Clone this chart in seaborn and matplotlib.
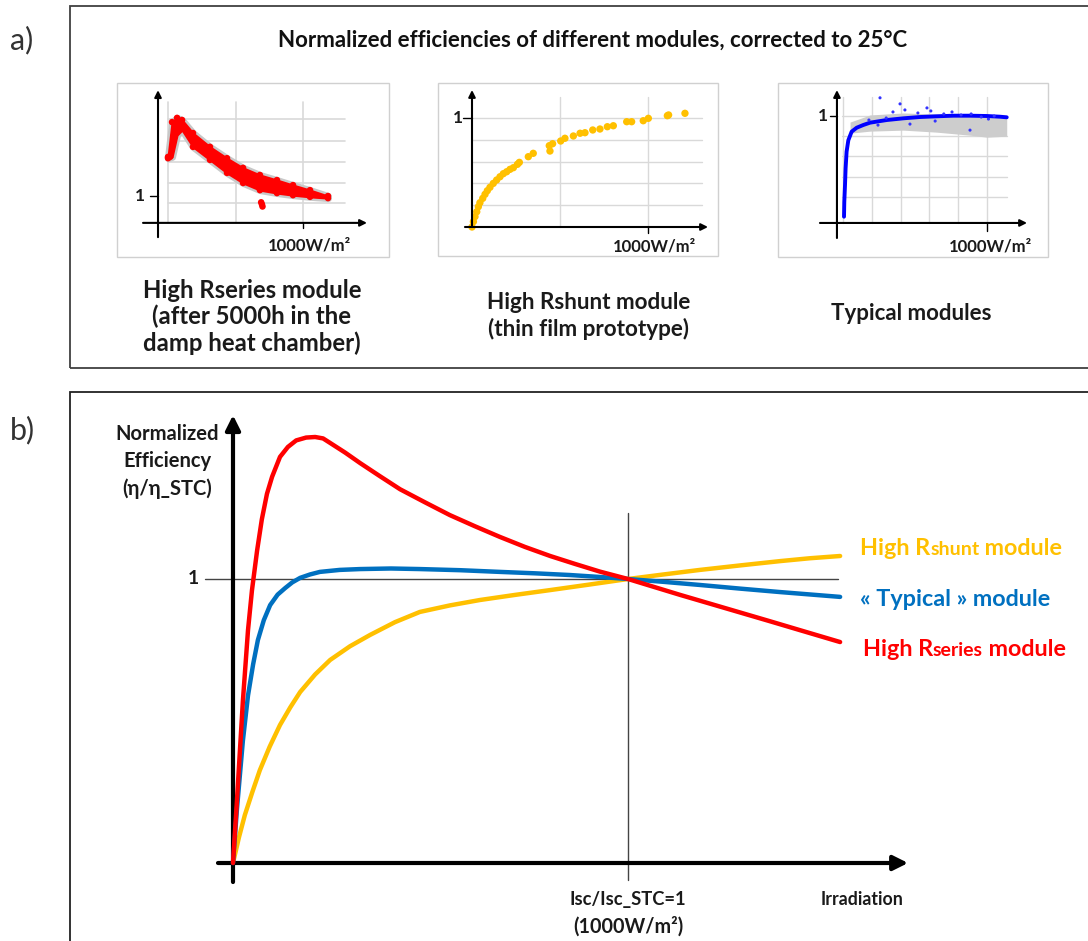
import matplotlib
matplotlib.use("Agg")
import numpy as np
import pandas as pd
import seaborn as sns
import matplotlib.pyplot as plt
from matplotlib.patches import Rectangle
from matplotlib.transforms import offset_copy

# ---------------- data ----------------
# panel a-1 : high Rseries module (W/m2, normalized efficiency)
rs_w_upper = [0, 30, 67, 104, 185, 311, 437, 556, 681, 807, 926, 1052, 1185]
rs_e_upper = [1.093, 1.176, 1.186, 1.181, 1.150, 1.117, 1.090, 1.067, 1.050, 1.038, 1.026, 1.014, 1.000]
rs_w_lower = [0, 15, 44, 67, 185, 311, 437, 556, 681, 807, 926, 1052, 1185]
rs_e_lower = [1.090, 1.093, 1.145, 1.157, 1.117, 1.086, 1.055, 1.031, 1.014, 1.007, 1.002, 0.998, 0.995]
rs_w_dip = [690, 696, 700]
rs_e_dip = [0.985, 0.980, 0.975]

# panel a-2 : high Rshunt module
sh_w = [0, 8, 17, 27, 36, 45, 61, 74, 87, 102, 121, 140, 159, 178, 197, 216, 235, 258, 269,
        320, 348, 439, 443, 458, 504, 528, 576, 614, 642, 686, 727, 769, 803, 879, 907, 973,
        1002, 1110, 1117, 1210]
sh_e = [0.0, 0.049, 0.095, 0.14, 0.186, 0.223, 0.263, 0.30, 0.333, 0.364, 0.40, 0.431, 0.461,
        0.489, 0.507, 0.529, 0.544, 0.575, 0.593, 0.645, 0.676, 0.746, 0.697, 0.764, 0.789,
        0.814, 0.835, 0.86, 0.865, 0.89, 0.899, 0.92, 0.929, 0.966, 0.966, 0.975, 0.997,
        1.021, 1.028, 1.043]

# panel a-3 : typical modules
ty_w = [7, 9, 14, 18, 25, 37, 60, 95, 141, 188, 303, 419, 535, 650, 766, 882, 998, 1090, 1137]
ty_e = [0.003, 0.15, 0.32, 0.48, 0.647, 0.76, 0.845, 0.884, 0.911, 0.934, 0.96, 0.977, 0.99,
        0.997, 1.003, 1.003, 1.0, 0.993, 0.987]
ty_out_w = [257, 396, 430, 583, 465, 882, 757, 347, 243, 520, 640, 700, 820, 960, 1050, 300, 180,
            610, 890, 1010]
ty_out_e = [1.18, 1.12, 1.06, 1.08, 0.92, 0.86, 1.04, 1.04, 0.91, 1.03, 0.95, 1.02, 1.01, 0.99,
            1.0, 0.98, 0.96, 1.05, 1.02, 0.97]
gray_w = [49, 188, 419, 650, 882, 1000, 1137]
gray_hi = [0.94, 1.01, 1.03, 1.02, 1.01, 1.00, 0.98]
gray_lo = [0.83, 0.85, 0.86, 0.84, 0.81, 0.79, 0.80]

# panel b : schematic curves (Isc/Isc_STC, eta/eta_STC)
red_x = [0, 0.010, 0.025, 0.038, 0.048, 0.061, 0.073, 0.086, 0.099, 0.119, 0.139, 0.160,
         0.185, 0.208, 0.228, 0.246, 0.284, 0.322, 0.372, 0.423, 0.486, 0.549, 0.612,
         0.676, 0.739, 0.803, 0.866, 0.929, 1.0, 1.066, 1.132, 1.208, 1.284, 1.36, 1.435, 1.537]
red_y = [0, 0.22, 0.57, 0.82, 0.96, 1.10, 1.21, 1.30, 1.36, 1.43, 1.465, 1.488, 1.498, 1.500,
         1.495, 1.479, 1.445, 1.408, 1.362, 1.316, 1.270, 1.225, 1.186, 1.148, 1.113, 1.081,
         1.053, 1.026, 1.0, 0.972, 0.944, 0.913, 0.882, 0.851, 0.820, 0.778]
blue_x = [0, 0.010, 0.025, 0.038, 0.051, 0.063, 0.078, 0.094, 0.113, 0.132, 0.150, 0.170,
          0.195, 0.220, 0.270, 0.322, 0.400, 0.473, 0.575, 0.676, 0.765, 0.853, 0.93, 1.0,
          1.09, 1.182, 1.285, 1.385, 1.537]
blue_y = [0, 0.19, 0.43, 0.59, 0.70, 0.785, 0.855, 0.908, 0.945, 0.968, 0.988, 1.004, 1.016,
          1.025, 1.032, 1.035, 1.037, 1.035, 1.031, 1.025, 1.020, 1.014, 1.007, 1.0, 0.99,
          0.979, 0.966, 0.954, 0.937]
orange_x = [0, 0.015, 0.030, 0.049, 0.068, 0.093, 0.119, 0.145, 0.170, 0.208, 0.246, 0.296,
            0.347, 0.410, 0.473, 0.549, 0.625, 0.714, 0.803, 0.90, 1.0, 1.09, 1.182, 1.285,
            1.385, 1.46, 1.537]
orange_y = [0, 0.09, 0.169, 0.25, 0.327, 0.41, 0.486, 0.548, 0.602, 0.664, 0.715, 0.763,
            0.803, 0.848, 0.884, 0.907, 0.926, 0.944, 0.961, 0.98, 1.0, 1.016, 1.032, 1.048,
            1.063, 1.073, 1.081]

# ---------------- styling ----------------
sns.set_theme(style="white")
plt.rcParams["font.family"] = ["Lato", "DejaVu Sans"]

RED = "#ff0000"
BLUE = "#0070c0"
ORANGE = "#ffc000"
GRID = "#d9d9d9"

W, H = 1088, 941
fig = plt.figure(figsize=(W / 100, H / 100), dpi=100)


def px_axes(l, t, r, b, xmap, ymap):
    ax = fig.add_axes([l / W, 1 - b / H, (r - l) / W, (b - t) / H])
    (p0, v0), (p1, v1) = xmap
    (q0, w0), (q1, w1) = ymap
    fx = lambda p: v0 + (p - p0) * (v1 - v0) / (p1 - p0)
    fy = lambda q: w0 + (q - q0) * (w1 - w0) / (q1 - q0)
    ax.set_xlim(fx(l), fx(r))
    ax.set_ylim(fy(b), fy(t))
    ax.axis("off")
    ax.patch.set_alpha(0)
    return ax


def arrow(ax, x0, y0, x1, y1, lw, ms, color="black"):
    ax.annotate("", xy=(x1, y1), xytext=(x0, y0),
                arrowprops=dict(arrowstyle="-|>", lw=lw, color=color,
                                mutation_scale=ms, shrinkA=0, shrinkB=0),
                annotation_clip=False)


def fig_text(x, y, s, **kw):
    fig.text(x / W, 1 - y / H, s, **kw)


# panel frames
fig.add_artist(Rectangle((70 / W, 1 - 368 / H), 1.2, (368 - 6) / H, transform=fig.transFigure,
                         fill=False, ec="#404040", lw=1.3))
fig.add_artist(Rectangle((70 / W, -0.2), 1.2, 0.2 + 1 - 392 / H, transform=fig.transFigure,
                         fill=False, ec="#222222", lw=1.3))
fig_text(22, 40, "a)", fontsize=22, color="#333333", ha="center", va="center")
fig_text(22, 430, "b)", fontsize=22, color="#333333", ha="center", va="center")
fig_text(593, 40, "Normalized efficiencies of different modules, corrected to 25°C",
         fontsize=16, fontweight="bold", ha="center", va="center", color="#111111")


def frame(ax):
    ax.add_patch(Rectangle((0, 0), 1, 1, transform=ax.transAxes, fill=False,
                           ec="#d0d0d0", lw=1.0, clip_on=False))


TXT = dict(fontweight="bold", color="#1a1a1a")

# ---------- panel a-1 ----------
ax1 = px_axes(117, 83, 389, 257, ((168, 0), (303, 1000)), ((196, 1.0), (154, 1.1)))
frame(ax1)
for gx in [0, 500, 1000]:
    ax1.plot([gx, gx], [0.936, 1.224], color=GRID, lw=1.2, zorder=1)
for gy in [0.983, 1.031, 1.081, 1.131, 1.183]:
    ax1.plot([0, 1311], [gy, gy], color=GRID, lw=1.2, zorder=1)
ax1.fill_between(rs_w_upper, rs_e_lower, rs_e_upper, color="#c8c8c8", lw=5, ec="#c8c8c8", zorder=2)
ax1.fill_between(rs_w_upper, rs_e_lower, rs_e_upper, color=RED, lw=1.5, ec=RED, zorder=3)
sns.scatterplot(x=rs_w_upper + rs_w_lower + rs_w_dip, y=rs_e_upper + rs_e_lower + rs_e_dip,
                color=RED, s=22, edgecolor="none", ax=ax1, zorder=4, legend=False)
arrow(ax1, -74, 0.902, -74, 1.252, 1.5, 10)
arrow(ax1, -185, 0.936, 1474, 0.936, 1.5, 10)
ax1.plot([-133, -74], [1.0, 1.0], color="black", lw=1)
ax1.plot([1000, 1000], [0.936, 0.924], color="black", lw=1)
ax1.text(-207, 1.0, "1", fontsize=12.5, ha="center", va="center", **TXT)
ax1.text(1044, 0.883, "1000W/m²", fontsize=12, ha="center", va="center", **TXT)
ax1.axis("off")

# ---------- panel a-2 ----------
ax2 = px_axes(438, 83, 718, 256, ((472, 0), (648, 1000)), ((227, 0), (118, 1.0)))
frame(ax2)
for gx in [500, 1000]:
    ax2.plot([gx, gx], [0, 1.19], color=GRID, lw=1.0, zorder=1)
for gy in [0.2, 0.4, 0.6, 0.8, 1.0]:
    ax2.plot([0, 1307], [gy, gy], color=GRID, lw=1.0, zorder=1)
sns.scatterplot(x=sh_w, y=sh_e, color=ORANGE, s=28, edgecolor="none", ax=ax2, zorder=3, legend=False)
arrow(ax2, 0, 0, 0, 1.257, 1.5, 10)
arrow(ax2, -40, 0, 1341, 0, 1.5, 10)
ax2.plot([-51, 0], [1.0, 1.0], color="black", lw=1)
ax2.plot([1000, 1000], [0, -0.055], color="black", lw=1)
ax2.text(-80, 1.0, "1", fontsize=12.5, ha="center", va="center", **TXT)
ax2.text(1034, -0.183, "1000W/m²", fontsize=12, ha="center", va="center", **TXT)
ax2.axis("off")

# ---------- panel a-3 ----------
ax3 = px_axes(778, 83, 1048, 257, ((843, 0), (987, 1000)), ((217, 0), (116, 1.0)))
frame(ax3)
for gx in [0, 200, 400, 600, 800, 1000]:
    ax3.plot([gx, gx], [-0.059, 1.19], color=GRID, lw=1.0, zorder=1)
for gy in [0.2, 0.4, 0.6, 0.8, 1.0]:
    ax3.plot([-7, 1139], [gy, gy], color=GRID, lw=1.0, zorder=1)
ax3.fill_between(gray_w, gray_lo, gray_hi, color="#cdcdcd", lw=0, zorder=2)
sns.lineplot(x=ty_w, y=ty_e, color="#0000ff", lw=2.8, ax=ax3, zorder=4, sort=False, estimator=None)
sns.scatterplot(x=ty_out_w, y=ty_out_e, color="#3333ff", s=5, edgecolor="none", ax=ax3,
                zorder=5, legend=False)
arrow(ax3, -42, -0.208, -42, 1.257, 1.5, 10)
arrow(ax3, -160, -0.059, 1278, -0.059, 1.5, 10)
ax3.plot([-90, -42], [1.0, 1.0], color="black", lw=1)
ax3.plot([1000, 1000], [-0.059, -0.139], color="black", lw=1)
ax3.text(-139, 1.0, "1", fontsize=12.5, ha="center", va="center", **TXT)
ax3.text(1021, -0.297, "1000W/m²", fontsize=12, ha="center", va="center", **TXT)
ax3.axis("off")

# captions under panel a plots
fig_text(252, 317, "High Rseries module\n(after 5000h in the\ndamp heat chamber)", fontsize=17.2,
         ha="center", va="center", linespacing=1.17, **TXT)
fig_text(589, 316, "High Rshunt module\n(thin film prototype)", fontsize=16.2,
         ha="center", va="center", linespacing=1.24, **TXT)
fig_text(911, 314, "Typical modules", fontsize=16, ha="center", va="center", **TXT)

# ---------- panel b ----------
axb = px_axes(70, 392, 1088, 941, ((233, 0), (628, 1.0)), ((863, 0), (579, 1.0)))
axb.plot([-0.071, 1.532], [1, 1], color="#444444", lw=1.0, zorder=1)
axb.plot([1.0, 1.0], [-0.06, 1.232], color="#444444", lw=1.0, zorder=1)
LINE = dict(lw=3.2, estimator=None, solid_joinstyle="round", solid_capstyle="round")
sns.lineplot(x=orange_x, y=orange_y, color=ORANGE, ax=axb, zorder=3, **LINE)
sns.lineplot(x=blue_x, y=blue_y, color=BLUE, ax=axb, zorder=4, **LINE)
sns.lineplot(x=red_x, y=red_y, color=RED, ax=axb, zorder=5, **LINE)
arrow(axb, 0, -0.067, 0, 1.577, 3.0, 22)
arrow(axb, -0.038, 0, 1.709, 0, 3.0, 22)
axb.axis("off")

axb.text(-0.167, 1.415, "Normalized\nEfficiency\n(η/η_STC)", fontsize=14.5, ha="center",
         va="center", linespacing=1.45, **TXT)
axb.text(-0.101, 1.0, "1", fontsize=14, ha="center", va="center", **TXT)
axb.text(1.0, -0.130, "Isc/Isc_STC=1", fontsize=13.2, ha="center", va="center", **TXT)
axb.text(1.0, -0.224, "(1000W/m²)", fontsize=14.2, ha="center", va="center", **TXT)
axb.text(1.592, -0.130, "Irradiation", fontsize=12.8, ha="center", va="center", **TXT)

fig.canvas.draw()
renderer = fig.canvas.get_renderer()


def rich_text(ax, x, y, parts, color):
    dx = 0.0
    for s, size in parts:
        tr = offset_copy(ax.transData, fig=fig, x=dx, y=0, units="dots")
        t = ax.text(x, y, s, transform=tr, fontsize=size, color=color, fontweight="bold",
                    va="baseline", ha="left")
        dx += t.get_window_extent(renderer).width


rich_text(axb, 1.587, 1.085, [("High R", 16.8), ("shunt", 14), (" module", 16.8)], ORANGE)
rich_text(axb, 1.587, 0.905, [("« Typical » module", 16.8)], BLUE)
rich_text(axb, 1.594, 0.728, [("High R", 16.8), ("series", 14), (" module", 16.8)], RED)

fig.savefig("out.png", dpi=100)
